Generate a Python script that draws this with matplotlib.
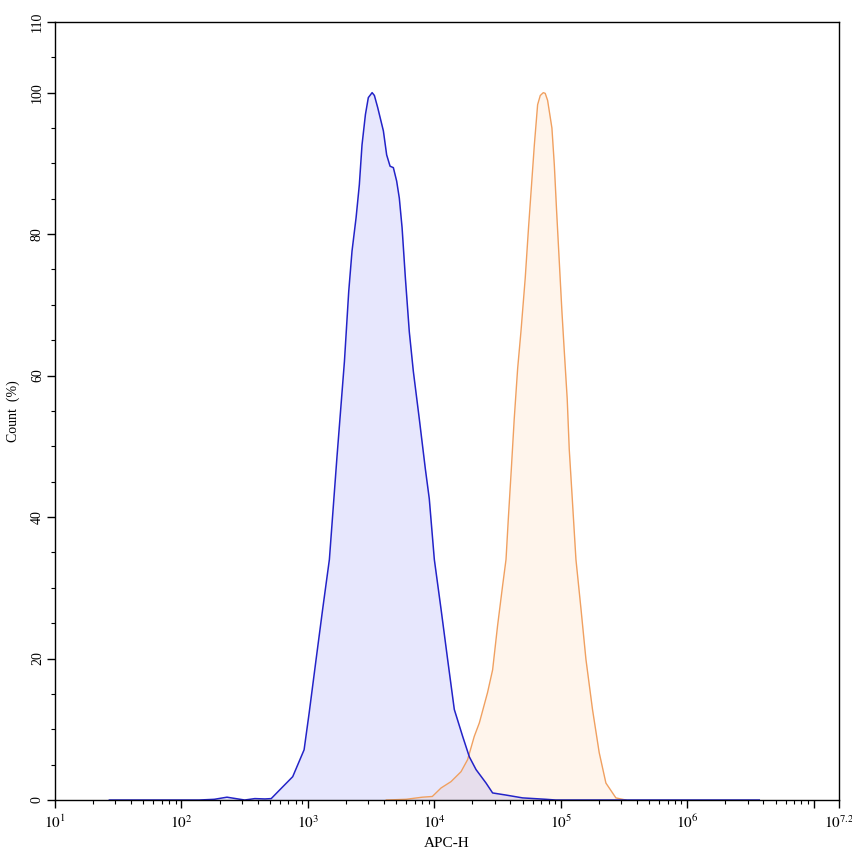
import matplotlib.pyplot as plt
import numpy as np

plt.rcParams['font.family'] = ['Liberation Serif', 'DejaVu Serif']
plt.rcParams['mathtext.fontset'] = 'stix'

# log10(APC-H) and count (%)
blue_log = [1.43, 2.14, 2.26, 2.36, 2.43, 2.50, 2.58, 2.66, 2.71, 2.77, 2.88, 2.97,
            3.01, 3.065, 3.117, 3.17, 3.23, 3.289, 3.323, 3.349, 3.381, 3.407, 3.428,
            3.455, 3.478, 3.508, 3.526, 3.552, 3.597, 3.623, 3.650, 3.676, 3.702,
            3.723, 3.745, 3.771, 3.802, 3.834, 3.881, 3.929, 3.960, 4.000, 4.053,
            4.105, 4.158, 4.224, 4.277, 4.330, 4.409, 4.461, 4.567, 4.698, 4.883,
            4.96, 6.57]
blue_cnt = [0, 0, 0.1, 0.4, 0.2, 0, 0.2, 0.15, 0.2, 1.3, 3.3, 7.1,
            12.3, 19.9, 27.0, 34.0, 48.5, 62.0, 71.9, 77.6, 82.3, 87.0, 92.6,
            96.9, 99.3, 100, 99.6, 97.9, 94.6, 91.2, 89.6, 89.4, 87.5,
            85.1, 80.9, 73.8, 66.2, 60.6, 53.9, 46.8, 42.6, 34.0, 27.0,
            19.9, 12.8, 9.0, 6.1, 4.3, 2.4, 1.0, 0.7, 0.3, 0.1,
            0, 0]

orange_log = [3.62, 3.776, 3.905, 3.984, 4.053, 4.132, 4.211, 4.263, 4.316, 4.356,
              4.421, 4.461, 4.500, 4.540, 4.567, 4.585, 4.609, 4.632, 4.659, 4.685,
              4.719, 4.745, 4.769, 4.791, 4.817, 4.838, 4.862, 4.877, 4.896, 4.930,
              4.949, 4.967, 4.988, 5.009, 5.028, 5.041, 5.051, 5.067, 5.091, 5.120,
              5.160, 5.199, 5.251, 5.304, 5.357, 5.436, 5.515]
orange_cnt = [0, 0.1, 0.4, 0.5, 1.7, 2.6, 4.0, 5.7, 9.0, 10.9,
              15.2, 18.4, 24.6, 30.3, 34.0, 39.7, 46.8, 53.9, 61.0, 66.2,
              73.8, 80.9, 87.0, 92.6, 98.3, 99.6, 100, 99.9, 98.9, 95.0,
              89.8, 83.3, 76.2, 69.1, 63.4, 59.6, 56.7, 49.6, 42.6, 34.0,
              27.0, 19.9, 12.8, 6.7, 2.4, 0.3, 0]

x_major = [1, 2, 3, 4, 5, 6, 7, 7.2]
x_labels = [r'$10^{1}$', r'$10^{2}$', r'$10^{3}$', r'$10^{4}$', r'$10^{5}$',
            r'$10^{6}$', '', r'$10^{7.2}$']
y_major = [0, 20, 40, 60, 80, 100, 110]

fig = plt.figure(figsize=(8.53, 8.56), dpi=100)
ax = fig.add_axes([0.0645, 0.0654, 0.919, 0.909])

bx = 10 ** np.array(blue_log)
ox = 10 ** np.array(orange_log)

ax.fill_between(ox, orange_cnt, 0, color=(1.0, 0.51, 0.08), alpha=0.08, lw=0)
ax.fill_between(bx, blue_cnt, 0, color=(0.24, 0.24, 0.94), alpha=0.12, lw=0)
ax.plot(ox, orange_cnt, color='#f0a060', lw=1.0)
ax.plot(bx, blue_cnt, color='#2323c8', lw=1.1)

ax.set_xscale('log')
ax.set_xlim(10 ** 1, 10 ** 7.2)
ax.set_ylim(0, 110)

ax.set_xticks([10 ** v for v in x_major])
ax.set_xticklabels(x_labels, fontsize=11)
minor = [k * 10 ** d for d in range(1, 8) for k in range(2, 10) if k * 10 ** d < 10 ** 7.2]
ax.set_xticks(minor, minor=True)
ax.set_xticklabels([], minor=True)

ax.set_yticks(y_major)
ax.set_yticklabels([str(v) for v in y_major], rotation=90, va='center', fontsize=10)
ax.set_yticks(np.arange(0, 111, 5), minor=True)

ax.tick_params(which='major', length=6, width=1, direction='out', pad=4)
ax.tick_params(which='minor', length=3, width=0.8, direction='out')
ax.tick_params(axis='y', pad=2)
for s in ax.spines.values():
    s.set_linewidth(1.0)

ax.set_xlabel('APC-H', fontsize=11, labelpad=4)
ax.set_ylabel('Count  (%)', fontsize=10)
ax.yaxis.set_label_coords(-0.045, 0.5)

fig.savefig('out.png', dpi=100)
